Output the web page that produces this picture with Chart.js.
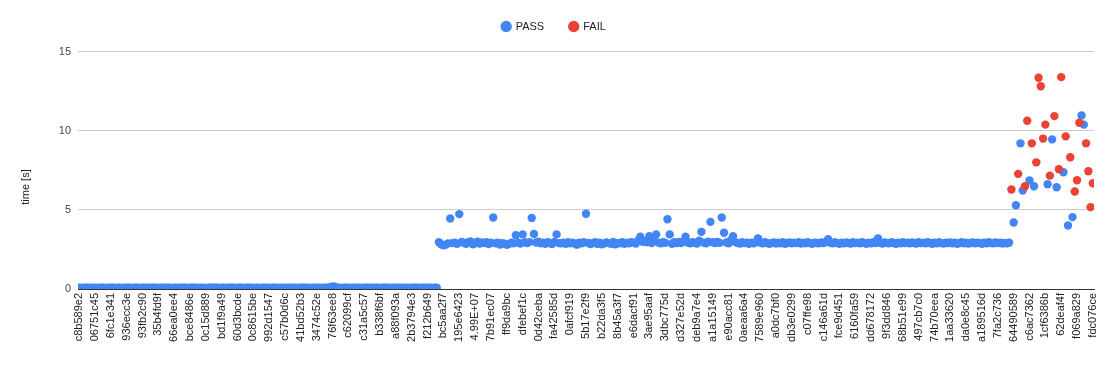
<!DOCTYPE html>
<html>
<head>
<meta charset="utf-8">
<script src="https://cdn.jsdelivr.net/npm/chart.js@4.4.1/dist/chart.umd.min.js"></script>
<style>
  html, body { margin: 0; padding: 0; background: #fff; }
  #wrap { width: 1113px; height: 371px; }
</style>
</head>
<body>
<div id="wrap"><canvas id="chart" width="1113" height="371"></canvas></div>
<script>
// commit hashes shown on the x axis (every 7th run)
const tickLabels = [
  "c8b589e2", "06751c45", "6fc1e341", "936ecc3e", "93fb2c90", "35b4fd9f", "66ea0ee4", "bce8486e",
  "0c15d889", "bd1f9a49", "60d3bcde", "0c8615be", "992d1547", "c57b0d6c", "41bd52b3", "3474c52e",
  "76f63ee8", "c62099cf", "c31a5c57", "b338f6bf", "a88f093a", "2b3794e3", "f212b649", "bc5aa2f7",
  "195e6423", "4.99E+07", "7b91ec07", "ff9da9bc", "dfebef1c", "0d42ceba", "fa42585d", "0afcf919",
  "5b17e2f9", "b22da3f5", "8b45a3f7", "e6dacf91", "3ae95aaf", "3dbc775d", "d327e52d", "deb9a7e4",
  "a1a15149", "e90acc81", "0aeaa6a4", "7589e960", "a0dc7bf0", "db3e0299", "c07ffe98", "c146a61d",
  "fce9d451", "6160fa59", "dd678172", "9f3dd846", "68b51e99", "497cb7c0", "74b70eea", "1aa33620",
  "da0e8c45", "a189516d", "7fa2c736", "64490589", "c6ac7362", "1cf6386b", "62deaf4f", "f069a829",
  "fdc076ce"
];
const labelStep = 7;
const yTicks = [0, 5, 10, 15];

// first block of runs (all PASS, near zero)
const lowTimes = [
  0.08, 0.07, 0.09, 0.08, 0.08, 0.07, 0.09, 0.08, 0.07, 0.08,
  0.09, 0.08, 0.07, 0.08, 0.08, 0.09, 0.07, 0.08, 0.08, 0.07,
  0.08, 0.09, 0.08, 0.07, 0.08, 0.08, 0.09, 0.07, 0.08, 0.09,
  0.07, 0.08, 0.08, 0.09, 0.08, 0.07, 0.08, 0.09, 0.08, 0.08,
  0.08, 0.07, 0.09, 0.08, 0.07, 0.08, 0.08, 0.09, 0.07, 0.08,
  0.09, 0.08, 0.08, 0.07, 0.09, 0.08, 0.07, 0.08, 0.09, 0.08,
  0.08, 0.09, 0.07, 0.08, 0.08, 0.07, 0.09, 0.08, 0.08, 0.07,
  0.08, 0.08, 0.09, 0.07, 0.08, 0.09, 0.08, 0.07, 0.08, 0.08,
  0.07, 0.09, 0.08, 0.08, 0.07, 0.08, 0.09, 0.08, 0.07, 0.08,
  0.08, 0.07, 0.08, 0.09, 0.08, 0.08, 0.07, 0.09, 0.08, 0.08,
  0.09, 0.08, 0.07, 0.08, 0.09, 0.08, 0.08, 0.07, 0.08, 0.09,
  0.08, 0.12, 0.16, 0.14, 0.09, 0.08, 0.07, 0.08, 0.09, 0.08,
  0.07, 0.08, 0.09, 0.08, 0.08, 0.07, 0.08, 0.09, 0.08, 0.07,
  0.08, 0.09, 0.08, 0.07, 0.08, 0.08, 0.09, 0.08, 0.07, 0.08,
  0.09, 0.08, 0.08, 0.07, 0.09, 0.08, 0.07, 0.08, 0.08, 0.09,
  0.08, 0.07, 0.08, 0.09, 0.08, 0.08, 0.07, 0.08, 0.09
];

// second block (all PASS, around 3 s)
const midTimes = [
  2.95, 2.82, 2.76, 2.80, 2.88, 4.45, 2.90, 2.93, 2.85, 4.73,
  2.97, 2.92, 2.86, 2.95, 3.00, 2.83, 2.91, 2.98, 2.87, 2.94,
  2.90, 2.96, 2.84, 2.92, 4.52, 2.88, 2.93, 2.81, 2.90, 2.86,
  2.79, 2.85, 2.92, 2.88, 3.40, 2.93, 2.87, 3.45, 2.95, 2.90,
  2.96, 4.49, 3.47, 2.94, 2.98, 2.89, 2.92, 2.86, 2.95, 2.91,
  2.84, 2.97, 3.45, 2.90, 2.88, 2.93, 2.85, 2.95, 2.89, 2.92,
  2.87, 2.80, 2.93, 2.88, 2.95, 4.75, 2.91, 2.84, 2.90, 2.96,
  2.86, 2.92, 2.82, 2.88, 2.94, 2.90, 2.85, 2.97, 2.83, 2.91,
  2.88, 2.95, 2.86, 2.92, 2.89, 2.96, 2.93, 2.87, 3.05, 3.30,
  2.98, 3.02, 2.95, 3.34, 2.90, 3.10, 3.45, 2.93, 2.88, 2.96,
  2.92, 4.41, 3.45, 2.86, 2.95, 2.90, 2.97, 2.91, 3.00, 3.30,
  2.94, 2.88, 2.96, 2.92, 2.87, 3.05, 3.61, 2.93, 2.89, 2.98,
  4.24, 2.95, 2.90, 2.97, 2.92, 4.52, 3.55, 2.94, 2.88, 3.08,
  3.34, 2.96, 2.91, 2.87, 2.95, 2.90, 2.93, 2.86, 2.92, 2.89,
  2.95, 3.20, 2.93, 2.88, 2.96, 2.91, 2.85, 2.90, 2.94, 2.87,
  2.92, 2.89, 2.95, 2.86, 2.91, 2.94, 2.88, 2.93, 2.90, 2.96,
  2.87, 2.92, 2.89, 2.95, 2.90, 2.86, 2.93, 2.91, 2.88, 2.94,
  2.90, 2.97, 3.15, 2.92, 2.88, 2.95, 2.90, 2.86, 2.93, 2.89,
  2.94, 2.91, 2.87, 2.95, 2.90, 2.92, 2.88, 2.96, 2.91, 2.85,
  2.93, 2.89, 2.95, 2.90, 3.20, 2.92, 2.87, 2.94, 2.90, 2.88,
  2.95, 2.91, 2.86, 2.93, 2.89, 2.96, 2.90, 2.92, 2.88, 2.94,
  2.91, 2.87, 2.95, 2.90, 2.93, 2.88, 2.96, 2.91, 2.86, 2.92,
  2.89, 2.95, 2.90, 2.87, 2.93, 2.91, 2.94, 2.88, 2.92, 2.86,
  2.90, 2.95, 2.89, 2.93, 2.87, 2.91, 2.94, 2.88, 2.92, 2.90,
  2.86, 2.93, 2.89, 2.95, 2.91, 2.88, 2.94, 2.90, 2.92, 2.87,
  2.91, 2.89, 2.93
];

// last block, mixed results
const tailTimes = [
  6.28, 4.20, 5.29, 7.27, 9.20, 6.22, 6.49, 10.63, 6.85, 9.20,
  6.49, 8.00, 13.34, 12.81, 9.50, 10.38, 6.62, 7.16, 9.45, 10.92,
  6.43, 7.56, 13.38, 7.37, 9.64, 4.01, 8.32, 4.54, 6.16, 6.87,
  10.50, 10.96, 10.38, 9.20, 7.44, 5.17, 6.68
];
const tailStatus = [
  "F", "P", "P", "F", "P", "P", "F", "F", "P", "F",
  "P", "F", "F", "F", "F", "F", "P", "F", "P", "F",
  "P", "F", "F", "P", "F", "P", "F", "P", "F", "F",
  "F", "P", "P", "F", "F", "F", "F"
];

const passPts = [];
const failPts = [];
lowTimes.concat(midTimes).forEach((v, i) => passPts.push({ x: i, y: v }));
const tailStart = lowTimes.length + midTimes.length;
tailTimes.forEach((v, i) => {
  const p = { x: tailStart + i, y: v };
  if (tailStatus[i] === "F") failPts.push(p); else passPts.push(p);
});
const runCount = tailStart + tailTimes.length;

Chart.defaults.font.family = "'Liberation Sans', Arial, sans-serif";
Chart.defaults.font.size = 11;
Chart.defaults.color = "#444";

// y axis title, placed a bit lower than the axis centre like the original
const yTitle = {
  id: "yTitle",
  afterDraw(chart) {
    const ctx = chart.ctx;
    ctx.save();
    ctx.translate(26, 187);
    ctx.rotate(-Math.PI / 2);
    ctx.font = "11px 'Liberation Sans', Arial, sans-serif";
    ctx.fillStyle = "#222";
    ctx.textAlign = "center";
    ctx.textBaseline = "middle";
    ctx.fillText("time [s]", 0, 0);
    ctx.restore();
  }
};

new Chart(document.getElementById("chart"), {
  type: "scatter",
  data: {
    datasets: [
      { label: "PASS", data: passPts, backgroundColor: "#4285f4", borderWidth: 0, pointRadius: 4.2, order: 2 },
      { label: "FAIL", data: failPts, backgroundColor: "#ea4335", borderWidth: 0, pointRadius: 4.2, order: 1 }
    ]
  },
  plugins: [yTitle],
  options: {
    responsive: false,
    animation: false,
    layout: { padding: { left: 14, right: 19, top: -4.5, bottom: 0 } },
    plugins: {
      tooltip: { enabled: false },
      legend: {
        position: "top",
        align: "center",
        labels: {
          usePointStyle: true,
          pointStyle: "circle",
          boxWidth: 8,
          boxHeight: 8,
          padding: 25.5,
          color: "#222",
          sort: (a, b) => a.text === "PASS" ? -1 : 1
        }
      }
    },
    scales: {
      x: {
        type: "linear",
        min: -0.5,
        max: runCount - 0.5,
        grid: { display: false, drawTicks: false },
        border: { display: true, color: "#333", width: 1 },
        afterBuildTicks: (scale) => {
          scale.ticks = tickLabels.map((_, k) => ({ value: k * labelStep }));
        },
        afterFit: (scale) => { scale.height = 82; },
        ticks: {
          autoSkip: false,
          minRotation: 90,
          maxRotation: 90,
          padding: 4,
          color: "#222",
          callback: (v) => tickLabels[Math.round(v / labelStep)]
        }
      },
      y: {
        min: 0,
        max: 15.6,
        grid: { color: "#ccc", drawTicks: false },
        border: { display: false },
        afterBuildTicks: (scale) => {
          scale.ticks = yTicks.map((v) => ({ value: v }));
        },
        afterFit: (scale) => { scale.width = 64; },
        ticks: { padding: 7, color: "#444" }
      }
    }
  }
});
</script>
</body>
</html>
